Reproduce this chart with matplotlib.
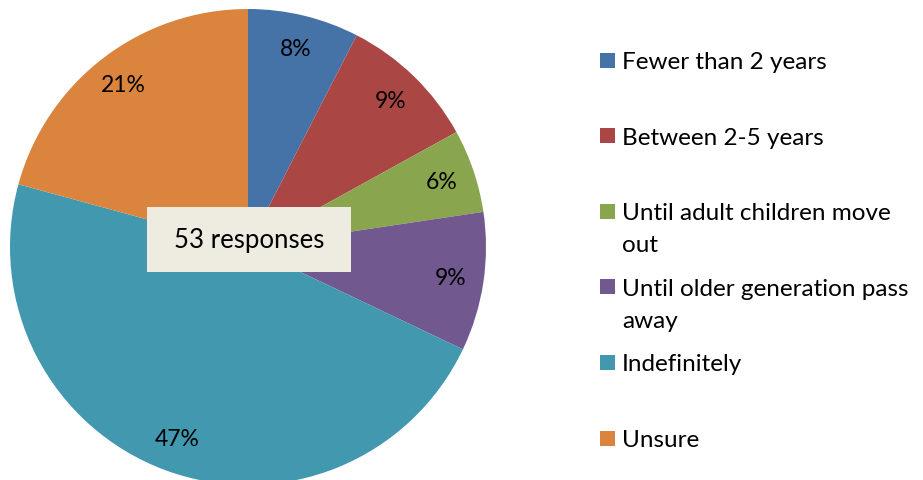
import matplotlib.pyplot as plt
from matplotlib.patches import Rectangle

# responses per answer (53 in total)
categories = ['Fewer than 2 years', 'Between 2-5 years', 'Until adult children move\nout',
              'Until older generation pass\naway', 'Indefinitely', 'Unsure']
counts = [4, 5, 3, 5, 25, 11]
colors = ['#4572A7', '#AA4643', '#89A54E', '#71588F', '#4198AF', '#DB843D']
total_label = '53 responses'

W, H = 923, 481
FONT = 'Lato'

fig = plt.figure(figsize=(W / 100, H / 100), dpi=100)
fig.patch.set_facecolor('white')

# pie centre at (248, 248) px, radius 238 px
cx, cy, r = 248, 248, 238
ax = fig.add_axes([(cx - r) / W, (H - cy - r) / H, 2 * r / W, 2 * r / H])
ax.pie(counts, colors=colors, startangle=90, counterclock=False,
       autopct=lambda p: '%d%%' % round(p), pctdistance=0.86, radius=1,
       textprops=dict(fontsize=16.5, family=FONT, color='black'),
       wedgeprops=dict(linewidth=0))
ax.set_xlim(-1, 1)
ax.set_ylim(-1, 1)
ax.set_aspect('equal')
ax.axis('off')

# centre box
bx0, by0, bx1, by1 = 147, 208, 351, 273
fig.patches.append(Rectangle((bx0 / W, 1 - by1 / H), (bx1 - bx0) / W, (by1 - by0) / H,
                             transform=fig.transFigure, facecolor='#EEECE1',
                             edgecolor='none', zorder=5))
fig.text((bx0 + bx1) / 2 / W, 1 - (by0 + by1) / 2 / H, total_label,
         ha='center', va='center', fontsize=18.5, family=FONT, zorder=6)

# legend drawn by hand so the marker sits next to the first line
for i, (lab, col) in enumerate(zip(categories, colors)):
    yc = 61 + i * 75.6
    fig.patches.append(Rectangle((600 / W, 1 - (yc + 7.5) / H), 15 / W, 15 / H,
                                 transform=fig.transFigure, facecolor=col,
                                 edgecolor='none'))
    for j, line in enumerate(lab.split('\n')):
        fig.text(622 / W, 1 - (yc + 8 + j * 32) / H, line, ha='left', va='baseline',
                 fontsize=17.5, family=FONT)

fig.savefig('out.png', dpi=100)
